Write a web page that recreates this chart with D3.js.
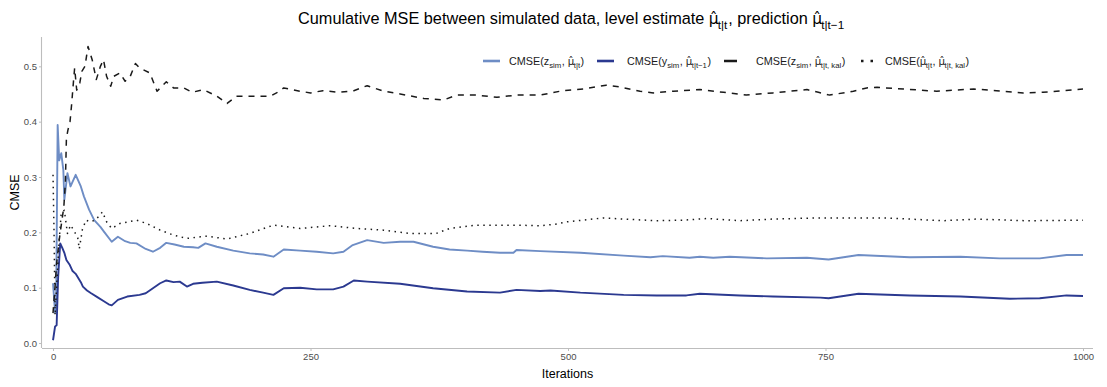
<!DOCTYPE html>
<html>
<head>
<meta charset="utf-8">
<script src="https://cdn.jsdelivr.net/npm/d3@7/dist/d3.min.js"></script>
<style>
  body { margin: 0; background: #fff; }
  text { font-family: "Liberation Sans", Arial, sans-serif; white-space: pre; }
</style>
</head>
<body>
<svg id="chart" width="1107" height="387"></svg>
<script>
// cumulative MSE per iteration as [iteration, value]
const cmseZLevel = [[0,0.108],[2,0.055],[3,0.065],[4.5,0.394],[6,0.33],[8,0.343],[10,0.313],[11,0.259],[14,0.307],[17,0.283],[22,0.304],[27,0.283],[30,0.265],[35,0.241],[40,0.222],[46,0.21],[50,0.2],[57,0.183],[63,0.192],[70,0.184],[75,0.181],[81,0.18],[90,0.17],[97,0.165],[104,0.172],[110,0.181],[118,0.178],[127,0.174],[136,0.173],[141,0.172],[148,0.18],[159,0.174],[175,0.167],[191,0.162],[204,0.16],[214,0.156],[224,0.169],[240,0.167],[256,0.165],[272,0.162],[282,0.165],[291,0.177],[305,0.186],[321,0.181],[337,0.183],[350,0.183],[369,0.174],[385,0.169],[402,0.167],[417,0.165],[434,0.163],[447,0.163],[450,0.168],[473,0.166],[512,0.163],[554,0.158],[580,0.155],[592,0.157],[618,0.154],[628,0.156],[641,0.154],[657,0.156],[693,0.153],[732,0.154],[753,0.151],[782,0.159],[832,0.155],[881,0.156],[919,0.153],[958,0.153],[984,0.159],[1000,0.159]];
const cmseYPred = [[0,0.005],[2,0.03],[3.5,0.032],[5,0.12],[7,0.18],[9,0.172],[11,0.163],[13,0.15],[16,0.142],[19,0.13],[22,0.125],[27,0.11],[29,0.102],[33,0.095],[37,0.09],[43,0.083],[49,0.076],[54,0.07],[57,0.068],[63,0.078],[72,0.084],[84,0.087],[90,0.09],[97,0.099],[104,0.108],[110,0.113],[117,0.11],[123,0.111],[130,0.102],[136,0.107],[145,0.109],[159,0.111],[175,0.104],[191,0.096],[204,0.091],[214,0.087],[224,0.099],[240,0.1],[256,0.097],[272,0.097],[282,0.102],[292,0.113],[305,0.111],[337,0.107],[369,0.099],[402,0.093],[434,0.091],[450,0.096],[473,0.094],[483,0.095],[512,0.091],[554,0.087],[586,0.086],[615,0.086],[628,0.089],[667,0.086],[699,0.084],[745,0.082],[753,0.081],[782,0.089],[832,0.086],[881,0.084],[929,0.08],[958,0.081],[984,0.086],[1000,0.085]];
const cmseZKal = [[0,0.054],[1.5,0.09],[3.5,0.144],[6,0.186],[8,0.213],[10.5,0.246],[12,0.29],[13,0.37],[14.5,0.385],[16.5,0.4],[18,0.43],[20,0.476],[21,0.497],[23,0.457],[26,0.47],[28,0.491],[31,0.5],[34,0.536],[38,0.512],[42,0.476],[46,0.5],[49,0.512],[52,0.482],[56,0.464],[59,0.482],[65,0.488],[70,0.473],[75,0.482],[80,0.505],[84,0.497],[94,0.488],[101,0.455],[110,0.472],[117,0.461],[127,0.461],[135,0.453],[146,0.458],[159,0.446],[169,0.433],[178,0.446],[191,0.446],[211,0.446],[217,0.452],[224,0.461],[240,0.455],[250,0.452],[262,0.456],[278,0.453],[292,0.456],[305,0.465],[321,0.455],[337,0.45],[360,0.442],[379,0.439],[392,0.448],[411,0.448],[431,0.444],[450,0.448],[473,0.448],[495,0.456],[515,0.459],[537,0.466],[550,0.463],[570,0.455],[583,0.452],[602,0.455],[628,0.458],[651,0.453],[673,0.448],[699,0.452],[732,0.458],[743,0.453],[754,0.448],[777,0.455],[790,0.461],[800,0.462],[826,0.459],[858,0.455],[894,0.459],[916,0.456],[942,0.452],[961,0.453],[981,0.456],[1000,0.459]];
const cmseLevelKal = [[0,0.304],[1,0.2],[2,0.05],[4,0.12],[6,0.186],[8,0.235],[11,0.24],[14,0.198],[17,0.213],[20,0.204],[24,0.19],[25.5,0.17],[28.5,0.205],[32,0.222],[36,0.219],[41,0.222],[45,0.23],[48,0.237],[52,0.219],[57,0.207],[65,0.216],[81,0.222],[91,0.216],[104,0.204],[117,0.195],[130,0.189],[143,0.192],[149,0.193],[169,0.188],[191,0.198],[214,0.213],[240,0.207],[269,0.212],[295,0.207],[321,0.204],[347,0.198],[372,0.198],[385,0.207],[411,0.213],[450,0.213],[473,0.212],[489,0.215],[499,0.219],[534,0.226],[554,0.224],[586,0.221],[612,0.222],[635,0.225],[667,0.221],[699,0.224],[741,0.226],[809,0.226],[864,0.221],[897,0.224],[945,0.221],[1000,0.222]];

const xTicks = [0, 250, 500, 750, 1000];
const yTicks = [0, 0.1, 0.2, 0.3, 0.4, 0.5];

// legend label pieces: plain text, {sub}, or {mu} (mu with hat)
const MU = {mu: 'μ\u0302'};
const seriesInfo = [
  { data: cmseZLevel, color: '#6e8dc5', dash: null, key: null,
    label: ['CMSE(z', {sub: 'sim'}, ', ', MU, {sub: 't|t'}, ')'] },
  { data: cmseYPred, color: '#2b3990', dash: null, key: null,
    label: ['CMSE(y', {sub: 'sim'}, ', ', MU, {sub: 't|t−1'}, ')'] },
  { data: cmseZKal, color: '#1a1a1a', dash: '6,6', key: '0,2,13,20',
    label: ['CMSE(z', {sub: 'sim'}, ', ', MU, {sub: 't|t, kal'}, ')'] },
  { data: cmseLevelKal, color: '#1a1a1a', dash: '1.5,4.5', key: '0,3,2.5,7,2.5,20',
    label: ['CMSE(', MU, {sub: 't|t'}, ', ', MU, {sub: 't|t, kal'}, ')'] }
];
// legend key / label left edges
const legendKeyX = [483, 597, 722, 858];
const legendTextX = [509, 627, 756, 885];

const svg = d3.select('#chart');
const padL = 42, padR = 1093, padT = 37, padB = 348;

const x = d3.scaleLinear().domain([-10.7, 1009.7]).range([padL, padR]);
const y = d3.scaleLinear().domain([-0.009, 0.553]).range([padB, padT]);

// one <text> made of tspans placed by measured widths
function richText(g, pieces, size, fill) {
  const meas = g.append('text').attr('visibility', 'hidden');
  const width = (s, fs, fam) => {
    meas.attr('font-size', fs).attr('font-family', fam || null).text(s);
    return meas.node().getComputedTextLength();
  };
  const text = g.append('text').attr('fill', fill);
  let cx = 0;
  pieces.forEach(p => {
    if (typeof p === 'string') {
      text.append('tspan').attr('x', cx).attr('y', 0).attr('font-size', size).text(p);
      cx += width(p, size);
    } else if (p.mu) {
      const fam = '"DejaVu Sans", sans-serif', fs = size * 0.95;
      text.append('tspan').attr('x', cx).attr('y', 0).attr('font-size', fs)
        .attr('font-family', fam).text(p.mu);
      cx += width(p.mu, fs, fam);
    } else {
      const fs = size * 0.72;
      text.append('tspan').attr('x', cx).attr('y', size * 0.32).attr('font-size', fs).text(p.sub);
      cx += width(p.sub, fs) + size * 0.05;
    }
  });
  meas.remove();
  return cx;
}

// axes
const xAxis = svg.append('g').attr('transform', `translate(0,${padB})`)
  .call(d3.axisBottom(x).tickValues(xTicks).tickSize(3).tickPadding(2).tickFormat(d3.format('d')));
const yAxis = svg.append('g').attr('transform', `translate(${padL},0)`)
  .call(d3.axisLeft(y).tickValues(yTicks).tickSize(3).tickPadding(2).tickFormat(d3.format('.1f')));

[xAxis, yAxis].forEach(a => {
  a.select('.domain').attr('stroke', '#bdbdbd').attr('stroke-width', 1.1);
  a.selectAll('.tick line').attr('stroke', '#bdbdbd');
  a.selectAll('.tick text').attr('fill', '#4d4d4d').attr('font-size', 9.5)
    .attr('font-family', '"Liberation Sans", Arial, sans-serif');
});
// ggplot draws the axis lines across the whole panel
xAxis.select('.domain').attr('d', `M${padL},0.5H${padR}`);
yAxis.select('.domain').attr('d', `M-0.5,${padT}V${padB}`);

// lines
const line = d3.line().x(d => x(d[0])).y(d => y(d[1]));
seriesInfo.forEach(s => {
  svg.append('path').datum(s.data)
    .attr('fill', 'none')
    .attr('stroke', s.color)
    .attr('stroke-width', s.dash ? 1.5 : 1.9)
    .attr('stroke-dasharray', s.dash)
    .attr('stroke-linejoin', 'round')
    .attr('d', line);
});

// title
const title = svg.append('g').attr('transform', 'translate(298,24)');
richText(title, ['Cumulative MSE between simulated data, level estimate ', MU, {sub: 't|t'},
  ', prediction ', MU, {sub: 't|t−1'}], 16.3, '#000');

// axis titles
svg.append('text').attr('x', (padL + padR) / 2).attr('y', 378)
  .attr('text-anchor', 'middle').attr('font-size', 12.5).text('Iterations');
svg.append('text').attr('transform', `translate(19,${(padT + padB) / 2}) rotate(-90)`)
  .attr('text-anchor', 'middle').attr('font-size', 12.5).text('CMSE');

// legend
const legY = 61;
seriesInfo.forEach((s, i) => {
  svg.append('line')
    .attr('x1', legendKeyX[i]).attr('x2', legendKeyX[i] + 17).attr('y1', legY).attr('y2', legY)
    .attr('stroke', s.color).attr('stroke-width', 2.6)
    .attr('stroke-dasharray', s.key);
  const g = svg.append('g').attr('transform', `translate(${legendTextX[i]},${legY + 3.5})`);
  richText(g, s.label, 10.8, '#1a1a1a');
});
</script>
</body>
</html>
